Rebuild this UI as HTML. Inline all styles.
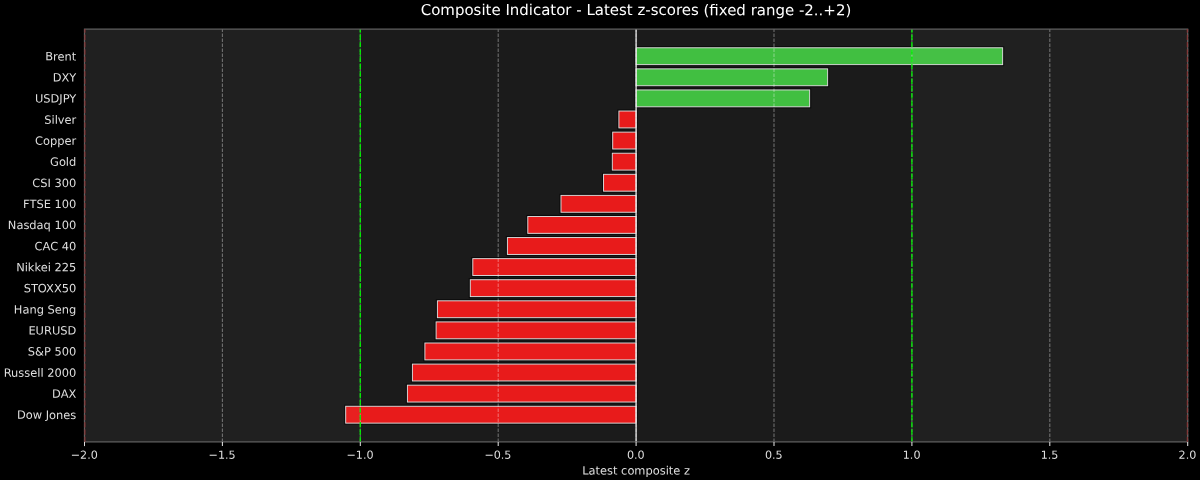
<!DOCTYPE html>
<html lang="en"><head><meta charset="utf-8"><title>Composite Indicator</title>
<style>html,body{margin:0;padding:0;background:#000;}body{width:1200px;height:480px;overflow:hidden;}svg{display:block;}text{font-family:"DejaVu Sans","Liberation Sans",sans-serif;}</style></head><body>
<svg width="1200" height="480" viewBox="0 0 1200 480">
<rect x="0" y="0" width="1200" height="480" fill="#000"/>
<rect x="84.5" y="29.0" width="1103.20" height="412.90" fill="#1b1b1b"/>
<g stroke="#000" stroke-opacity="0.6" stroke-width="3.2" fill="none">
<rect x="636.10" y="47.77" width="366.55" height="16.87"/>
<rect x="636.10" y="68.86" width="191.55" height="16.87"/>
<rect x="636.10" y="89.94" width="173.55" height="16.87"/>
<rect x="618.90" y="111.03" width="17.20" height="16.87"/>
<rect x="612.70" y="132.12" width="23.40" height="16.87"/>
<rect x="612.30" y="153.21" width="23.80" height="16.87"/>
<rect x="603.55" y="174.30" width="32.55" height="16.87"/>
<rect x="561.00" y="195.38" width="75.10" height="16.87"/>
<rect x="527.80" y="216.47" width="108.30" height="16.87"/>
<rect x="507.40" y="237.56" width="128.70" height="16.87"/>
<rect x="472.80" y="258.65" width="163.30" height="16.87"/>
<rect x="470.30" y="279.73" width="165.80" height="16.87"/>
<rect x="437.40" y="300.82" width="198.70" height="16.87"/>
<rect x="436.10" y="321.91" width="200.00" height="16.87"/>
<rect x="424.90" y="343.00" width="211.20" height="16.87"/>
<rect x="412.40" y="364.09" width="223.70" height="16.87"/>
<rect x="407.40" y="385.17" width="228.70" height="16.87"/>
<rect x="345.70" y="406.26" width="290.40" height="16.87"/>
</g>
<g stroke="#dcdcdc" stroke-width="0.95">
<rect x="636.10" y="47.77" width="366.55" height="16.87" fill="#41bf41"/>
<rect x="636.10" y="68.86" width="191.55" height="16.87" fill="#41bf41"/>
<rect x="636.10" y="89.94" width="173.55" height="16.87" fill="#41bf41"/>
<rect x="618.90" y="111.03" width="17.20" height="16.87" fill="#e81b1b"/>
<rect x="612.70" y="132.12" width="23.40" height="16.87" fill="#e81b1b"/>
<rect x="612.30" y="153.21" width="23.80" height="16.87" fill="#e81b1b"/>
<rect x="603.55" y="174.30" width="32.55" height="16.87" fill="#e81b1b"/>
<rect x="561.00" y="195.38" width="75.10" height="16.87" fill="#e81b1b"/>
<rect x="527.80" y="216.47" width="108.30" height="16.87" fill="#e81b1b"/>
<rect x="507.40" y="237.56" width="128.70" height="16.87" fill="#e81b1b"/>
<rect x="472.80" y="258.65" width="163.30" height="16.87" fill="#e81b1b"/>
<rect x="470.30" y="279.73" width="165.80" height="16.87" fill="#e81b1b"/>
<rect x="437.40" y="300.82" width="198.70" height="16.87" fill="#e81b1b"/>
<rect x="436.10" y="321.91" width="200.00" height="16.87" fill="#e81b1b"/>
<rect x="424.90" y="343.00" width="211.20" height="16.87" fill="#e81b1b"/>
<rect x="412.40" y="364.09" width="223.70" height="16.87" fill="#e81b1b"/>
<rect x="407.40" y="385.17" width="228.70" height="16.87" fill="#e81b1b"/>
<rect x="345.70" y="406.26" width="290.40" height="16.87" fill="#e81b1b"/>
</g>
<rect x="84.5" y="29.0" width="275.80" height="412.90" fill="#fff" fill-opacity="0.024"/>
<rect x="911.90" y="29.0" width="275.80" height="412.90" fill="#fff" fill-opacity="0.024"/>
<g stroke="#ffffff" stroke-opacity="0.36" stroke-width="1.1" stroke-dasharray="3.49 1.51" fill="none">
<line x1="84.50" y1="441.9" x2="84.50" y2="29.0"/>
<line x1="222.40" y1="441.9" x2="222.40" y2="29.0"/>
<line x1="360.30" y1="441.9" x2="360.30" y2="29.0"/>
<line x1="498.20" y1="441.9" x2="498.20" y2="29.0"/>
<line x1="636.10" y1="441.9" x2="636.10" y2="29.0"/>
<line x1="774.00" y1="441.9" x2="774.00" y2="29.0"/>
<line x1="911.90" y1="441.9" x2="911.90" y2="29.0"/>
<line x1="1049.80" y1="441.9" x2="1049.80" y2="29.0"/>
<line x1="1187.70" y1="441.9" x2="1187.70" y2="29.0"/>
</g>
<line x1="636.10" y1="441.9" x2="636.10" y2="29.0" stroke="#ececec" stroke-width="1.25"/>
<g stroke="#00f000" stroke-opacity="0.93" stroke-width="1.4" stroke-dasharray="5.45 1.86" stroke-dashoffset="0.2" fill="none">
<line x1="360.30" y1="441.9" x2="360.30" y2="29.0"/>
<line x1="911.90" y1="441.9" x2="911.90" y2="29.0"/>
</g>
<rect x="84.5" y="29.1" width="1103.20" height="412.80" fill="none" stroke="#626262" stroke-width="1.2"/>
<g stroke="#932a2a" stroke-opacity="0.9" stroke-width="1.0" stroke-dasharray="5.35 1.96" stroke-dashoffset="0.2" fill="none">
<line x1="84.95" y1="441.9" x2="84.95" y2="29.0"/>
<line x1="1187.25" y1="441.9" x2="1187.25" y2="29.0"/>
</g>
<g stroke="#e0e0e0" stroke-width="1.05">
<line x1="84.50" y1="441.9" x2="84.50" y2="446.10"/>
<line x1="222.40" y1="441.9" x2="222.40" y2="446.10"/>
<line x1="360.30" y1="441.9" x2="360.30" y2="446.10"/>
<line x1="498.20" y1="441.9" x2="498.20" y2="446.10"/>
<line x1="636.10" y1="441.9" x2="636.10" y2="446.10"/>
<line x1="774.00" y1="441.9" x2="774.00" y2="446.10"/>
<line x1="911.90" y1="441.9" x2="911.90" y2="446.10"/>
<line x1="1049.80" y1="441.9" x2="1049.80" y2="446.10"/>
<line x1="1187.70" y1="441.9" x2="1187.70" y2="446.10"/>
</g>
<g fill="#dedede" font-size="11.15px" text-anchor="middle">
<text x="84.25" y="458.7" transform="rotate(0.03 84.25 458.7)">−2.0</text>
<text x="222.15" y="458.7" transform="rotate(0.03 222.15 458.7)">−1.5</text>
<text x="360.05" y="458.7" transform="rotate(0.03 360.05 458.7)">−1.0</text>
<text x="497.95" y="458.7" transform="rotate(0.03 497.95 458.7)">−0.5</text>
<text x="635.85" y="458.7" transform="rotate(0.03 635.85 458.7)">0.0</text>
<text x="773.75" y="458.7" transform="rotate(0.03 773.75 458.7)">0.5</text>
<text x="911.65" y="458.7" transform="rotate(0.03 911.65 458.7)">1.0</text>
<text x="1049.55" y="458.7" transform="rotate(0.03 1049.55 458.7)">1.5</text>
<text x="1187.45" y="458.7" transform="rotate(0.03 1187.45 458.7)">2.0</text>
</g>
<g fill="#dedede" font-size="11.43px" text-anchor="end">
<text x="76.3" y="60.40" transform="rotate(0.03 76.3 60.40)">Brent</text>
<text x="76.3" y="81.49" transform="rotate(0.03 76.3 81.49)">DXY</text>
<text x="76.3" y="102.58" transform="rotate(0.03 76.3 102.58)">USDJPY</text>
<text x="76.3" y="123.67" transform="rotate(0.03 76.3 123.67)">Silver</text>
<text x="76.3" y="144.75" transform="rotate(0.03 76.3 144.75)">Copper</text>
<text x="76.3" y="165.84" transform="rotate(0.03 76.3 165.84)">Gold</text>
<text x="76.3" y="186.93" transform="rotate(0.03 76.3 186.93)">CSI 300</text>
<text x="76.3" y="208.02" transform="rotate(0.03 76.3 208.02)">FTSE 100</text>
<text x="76.3" y="229.11" transform="rotate(0.03 76.3 229.11)">Nasdaq 100</text>
<text x="76.3" y="250.19" transform="rotate(0.03 76.3 250.19)">CAC 40</text>
<text x="76.3" y="271.28" transform="rotate(0.03 76.3 271.28)">Nikkei 225</text>
<text x="76.3" y="292.37" transform="rotate(0.03 76.3 292.37)">STOXX50</text>
<text x="76.3" y="313.46" transform="rotate(0.03 76.3 313.46)">Hang Seng</text>
<text x="76.3" y="334.55" transform="rotate(0.03 76.3 334.55)">EURUSD</text>
<text x="76.3" y="355.63" transform="rotate(0.03 76.3 355.63)">S&amp;P 500</text>
<text x="76.3" y="376.72" transform="rotate(0.03 76.3 376.72)">Russell 2000</text>
<text x="76.3" y="397.81" transform="rotate(0.03 76.3 397.81)">DAX</text>
<text x="76.3" y="418.90" transform="rotate(0.03 76.3 418.90)">Dow Jones</text>
</g>
<text x="636.10" y="474.5" transform="rotate(0.03 636.10 474.5)" fill="#dedede" font-size="11.43px" text-anchor="middle">Latest composite z</text>
<text x="636.00" y="15.1" transform="rotate(0.03 636.00 15.1)" fill="#ffffff" font-size="14.98px" text-anchor="middle">Composite Indicator - Latest z-scores (fixed range -2..+2)</text>
</svg></body></html>
